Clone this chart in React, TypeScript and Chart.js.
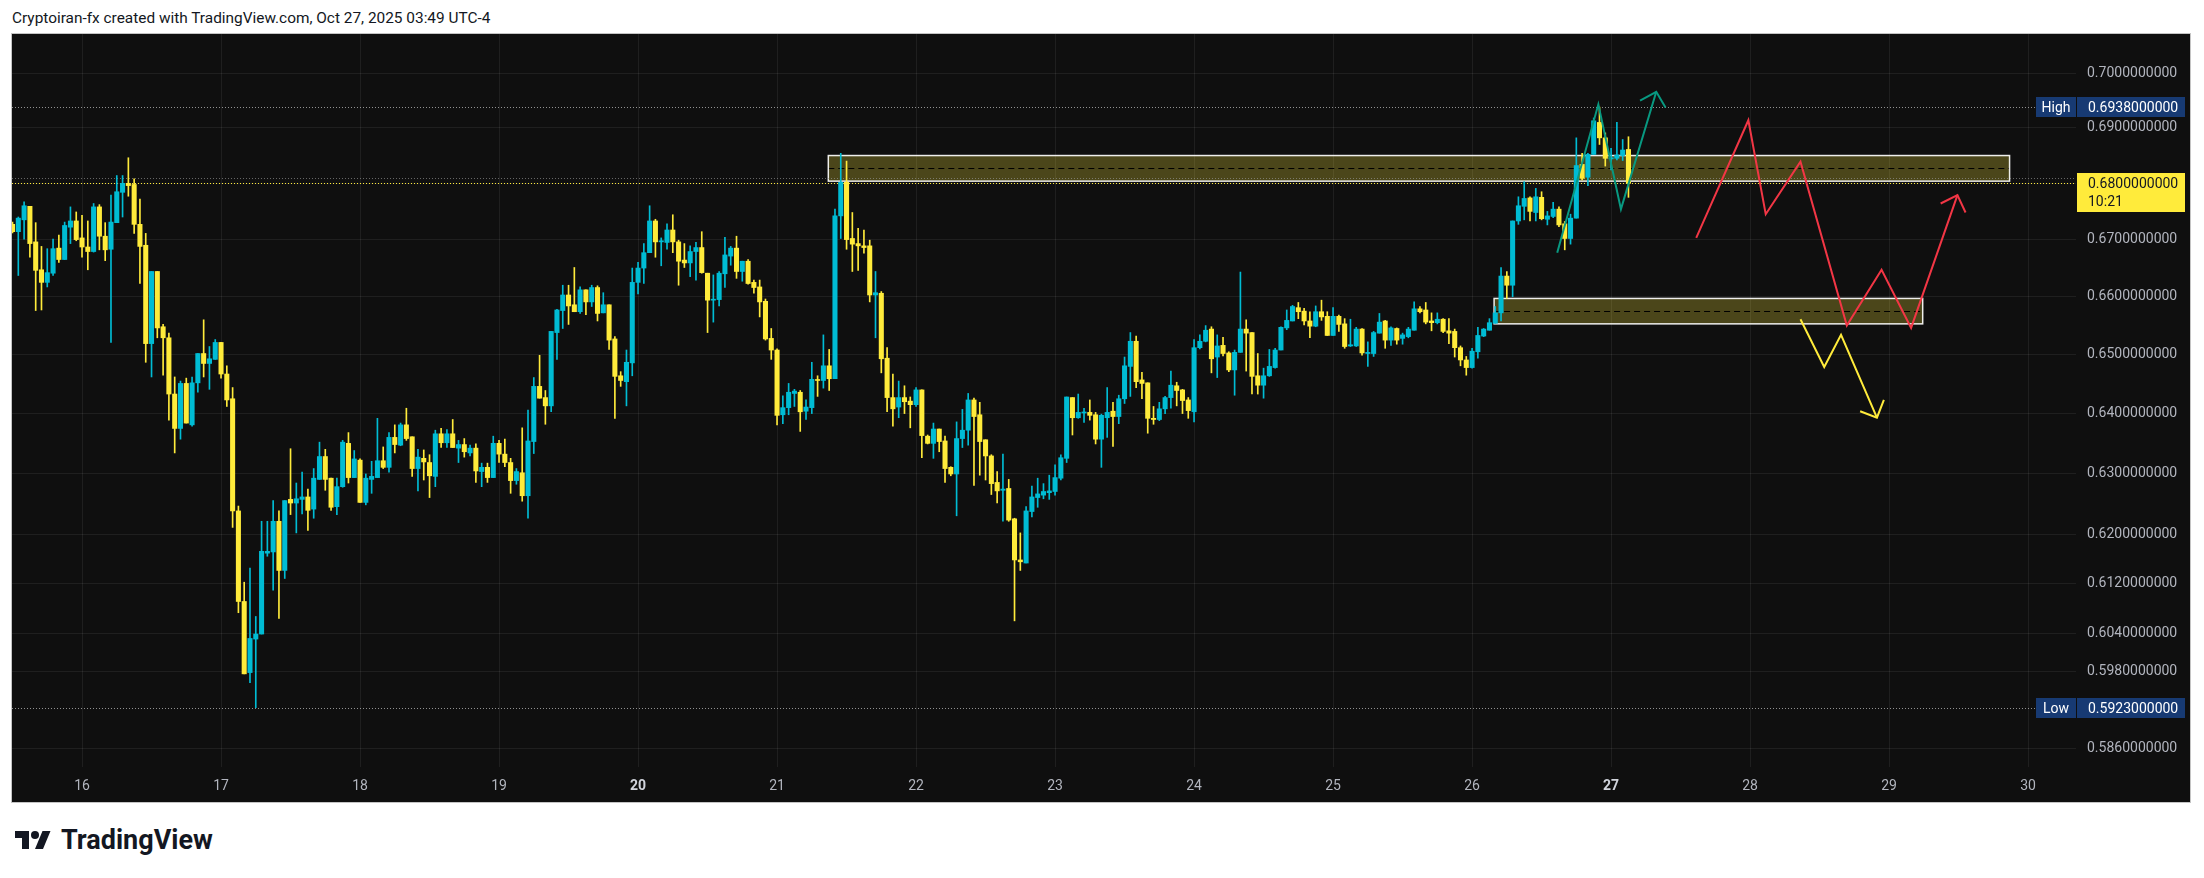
import React, { useEffect, useRef } from "react";
import { Chart, registerables } from "chart.js";

Chart.register(...registerables);

// Hourly candles; hour index is counted from Oct 16 00:00 (UTC-4)
const FIRST_HOUR = -12;

const open = [
  0.6727, 0.6714, 0.6735, 0.6759, 0.6696, 0.6647, 0.6625, 0.6641, 0.6685, 0.6665, 0.6722, 0.6733,
  0.6703, 0.6687, 0.6679, 0.6758, 0.6706, 0.6683, 0.6730, 0.6784, 0.6800, 0.6798,
  0.6727, 0.6690, 0.6519, 0.6644, 0.6548, 0.6529, 0.6433, 0.6375, 0.6451, 0.6381,
  0.6452, 0.6502, 0.6485, 0.6492, 0.6521, 0.6467, 0.6425, 0.6238, 0.6091, 0.5978,
  0.6031, 0.6039, 0.6169, 0.6171, 0.6221, 0.6141, 0.6257, 0.6251, 0.6257, 0.6261,
  0.6241, 0.6290, 0.6328, 0.6292, 0.6245, 0.6278, 0.6350, 0.6293, 0.6322, 0.6252,
  0.6290, 0.6293, 0.6321, 0.6310, 0.6360, 0.6347, 0.6381, 0.6361, 0.6308, 0.6325,
  0.6318, 0.6295, 0.6366, 0.6351, 0.6366, 0.6342, 0.6348, 0.6334, 0.6342, 0.6303,
  0.6310, 0.6293, 0.6350, 0.6332, 0.6318, 0.6288, 0.6301, 0.6263, 0.6353, 0.6446,
  0.6427, 0.6413, 0.6538, 0.6576, 0.6603, 0.6586, 0.6574, 0.6612, 0.6591, 0.6616,
  0.6572, 0.6586, 0.6527, 0.6464, 0.6454, 0.6486, 0.6625, 0.6650, 0.6677, 0.6733,
  0.6696, 0.6695, 0.6717, 0.6696, 0.6664, 0.6659, 0.6679, 0.6686, 0.6641, 0.6594,
  0.6595, 0.6640, 0.6671, 0.6685, 0.6644, 0.6662, 0.6625, 0.6617, 0.6592, 0.6528,
  0.6508, 0.6398, 0.6410, 0.6434, 0.6436, 0.6404, 0.6410, 0.6457, 0.6456, 0.6481,
  0.6459, 0.6742, 0.6802, 0.6702, 0.6693, 0.6689, 0.6689, 0.6603, 0.6606, 0.6494,
  0.6427, 0.6411, 0.6427, 0.6421, 0.6415, 0.6440, 0.6362, 0.6350, 0.6374, 0.6354,
  0.6310, 0.6299, 0.6358, 0.6372, 0.6423, 0.6398, 0.6356, 0.6329, 0.6285, 0.6272,
  0.6275, 0.6225, 0.6158, 0.6153, 0.6237, 0.6260, 0.6264, 0.6268, 0.6270, 0.6292,
  0.6325, 0.6427, 0.6393, 0.6401, 0.6402, 0.6398, 0.6357, 0.6393, 0.6404, 0.6395,
  0.6425, 0.6480, 0.6523, 0.6457, 0.6452, 0.6392, 0.6390, 0.6408, 0.6427, 0.6447,
  0.6440, 0.6423, 0.6403, 0.6512, 0.6523, 0.6544, 0.6496, 0.6516, 0.6503, 0.6474,
  0.6504, 0.6544, 0.6538, 0.6464, 0.6448, 0.6464, 0.6478, 0.6508, 0.6546, 0.6558,
  0.6581, 0.6575, 0.6558, 0.6549, 0.6574, 0.6566, 0.6533, 0.6566, 0.6553, 0.6515,
  0.6515, 0.6544, 0.6502, 0.6502, 0.6537, 0.6558, 0.6525, 0.6545, 0.6528, 0.6531,
  0.6542, 0.6579, 0.6577, 0.6558, 0.6555, 0.6561, 0.6541, 0.6540, 0.6512, 0.6491,
  0.6478, 0.6505, 0.6532, 0.6542, 0.6554, 0.6572, 0.6636, 0.6620, 0.6733, 0.6759,
  0.6774, 0.6748, 0.6775, 0.6736, 0.6741, 0.6754, 0.6728, 0.6702, 0.6738, 0.6834,
  0.6811, 0.6852, 0.6910, 0.6882, 0.6844, 0.6845, 0.6850, 0.6861,
];

const high = [
  0.6731, 0.6740, 0.6767, 0.6759, 0.6730, 0.6688, 0.6684, 0.6701, 0.6708, 0.6731, 0.6758, 0.6749,
  0.6743, 0.6733, 0.6764, 0.6762, 0.6730, 0.6779, 0.6814, 0.6814, 0.6846, 0.6808,
  0.6772, 0.6711, 0.6644, 0.6644, 0.6552, 0.6537, 0.6462, 0.6455, 0.6460, 0.6462,
  0.6502, 0.6560, 0.6514, 0.6526, 0.6521, 0.6481, 0.6444, 0.6246, 0.6122, 0.6145,
  0.6067, 0.6221, 0.6221, 0.6255, 0.6238, 0.6255, 0.6341, 0.6284, 0.6302, 0.6274,
  0.6308, 0.6352, 0.6340, 0.6292, 0.6292, 0.6355, 0.6368, 0.6338, 0.6324, 0.6299,
  0.6320, 0.6392, 0.6344, 0.6368, 0.6381, 0.6384, 0.6409, 0.6361, 0.6340, 0.6339,
  0.6331, 0.6372, 0.6375, 0.6373, 0.6390, 0.6355, 0.6358, 0.6347, 0.6349, 0.6317,
  0.6317, 0.6362, 0.6355, 0.6357, 0.6325, 0.6308, 0.6376, 0.6406, 0.6461, 0.6499,
  0.6439, 0.6540, 0.6578, 0.6620, 0.6620, 0.6651, 0.6617, 0.6612, 0.6620, 0.6619,
  0.6607, 0.6586, 0.6531, 0.6471, 0.6508, 0.6650, 0.6660, 0.6693, 0.6760, 0.6736,
  0.6703, 0.6728, 0.6744, 0.6699, 0.6693, 0.6689, 0.6695, 0.6714, 0.6641, 0.6638,
  0.6644, 0.6704, 0.6688, 0.6706, 0.6662, 0.6665, 0.6629, 0.6629, 0.6596, 0.6545,
  0.6510, 0.6430, 0.6451, 0.6441, 0.6439, 0.6423, 0.6487, 0.6464, 0.6534, 0.6509,
  0.6754, 0.6854, 0.6840, 0.6748, 0.6720, 0.6717, 0.6699, 0.6644, 0.6609, 0.6512,
  0.6467, 0.6455, 0.6447, 0.6428, 0.6444, 0.6440, 0.6364, 0.6384, 0.6374, 0.6362,
  0.6311, 0.6386, 0.6407, 0.6434, 0.6426, 0.6419, 0.6356, 0.6331, 0.6303, 0.6332,
  0.6290, 0.6226, 0.6202, 0.6245, 0.6279, 0.6292, 0.6283, 0.6297, 0.6314, 0.6331,
  0.6428, 0.6427, 0.6433, 0.6409, 0.6423, 0.6402, 0.6399, 0.6444, 0.6419, 0.6431,
  0.6496, 0.6538, 0.6532, 0.6470, 0.6452, 0.6412, 0.6419, 0.6429, 0.6472, 0.6453,
  0.6441, 0.6427, 0.6526, 0.6534, 0.6550, 0.6548, 0.6534, 0.6530, 0.6505, 0.6508,
  0.6643, 0.6560, 0.6538, 0.6502, 0.6477, 0.6509, 0.6511, 0.6548, 0.6577, 0.6585,
  0.6590, 0.6580, 0.6574, 0.6584, 0.6594, 0.6574, 0.6581, 0.6568, 0.6562, 0.6561,
  0.6547, 0.6545, 0.6522, 0.6540, 0.6571, 0.6559, 0.6548, 0.6546, 0.6537, 0.6547,
  0.6591, 0.6583, 0.6590, 0.6572, 0.6572, 0.6562, 0.6562, 0.6544, 0.6515, 0.6497,
  0.6511, 0.6547, 0.6545, 0.6562, 0.6583, 0.6651, 0.6644, 0.6733, 0.6776, 0.6803,
  0.6776, 0.6791, 0.6785, 0.6750, 0.6766, 0.6758, 0.6732, 0.6745, 0.6882, 0.6854,
  0.6854, 0.6918, 0.6938, 0.6891, 0.6863, 0.6910, 0.6879, 0.6884,
];

const low = [
  0.6712, 0.6637, 0.6701, 0.6669, 0.6576, 0.6577, 0.6617, 0.6637, 0.6660, 0.6665, 0.6693, 0.6698,
  0.6669, 0.6647, 0.6678, 0.6682, 0.6663, 0.6521, 0.6730, 0.6740, 0.6777, 0.6711,
  0.6623, 0.6487, 0.6462, 0.6529, 0.6465, 0.6389, 0.6334, 0.6357, 0.6384, 0.6379,
  0.6436, 0.6462, 0.6441, 0.6492, 0.6460, 0.6412, 0.6211, 0.6073, 0.5976, 0.5962,
  0.5923, 0.6039, 0.6164, 0.6109, 0.6064, 0.6128, 0.6232, 0.6202, 0.6233, 0.6206,
  0.6226, 0.6290, 0.6272, 0.6239, 0.6232, 0.6277, 0.6284, 0.6293, 0.6252, 0.6248,
  0.6267, 0.6293, 0.6308, 0.6302, 0.6334, 0.6346, 0.6355, 0.6295, 0.6271, 0.6289,
  0.6260, 0.6278, 0.6343, 0.6343, 0.6343, 0.6318, 0.6327, 0.6329, 0.6285, 0.6278,
  0.6285, 0.6293, 0.6318, 0.6311, 0.6267, 0.6282, 0.6254, 0.6226, 0.6333, 0.6426,
  0.6382, 0.6403, 0.6492, 0.6545, 0.6552, 0.6574, 0.6571, 0.6569, 0.6583, 0.6558,
  0.6572, 0.6509, 0.6392, 0.6446, 0.6413, 0.6464, 0.6605, 0.6623, 0.6677, 0.6669,
  0.6654, 0.6683, 0.6677, 0.6620, 0.6651, 0.6635, 0.6629, 0.6641, 0.6538, 0.6556,
  0.6584, 0.6616, 0.6655, 0.6632, 0.6627, 0.6622, 0.6606, 0.6565, 0.6525, 0.6492,
  0.6381, 0.6383, 0.6398, 0.6412, 0.6370, 0.6390, 0.6400, 0.6429, 0.6443, 0.6439,
  0.6459, 0.6702, 0.6683, 0.6644, 0.6646, 0.6676, 0.6591, 0.6529, 0.6469, 0.6403,
  0.6379, 0.6393, 0.6400, 0.6376, 0.6412, 0.6326, 0.6349, 0.6325, 0.6336, 0.6285,
  0.6296, 0.6230, 0.6343, 0.6347, 0.6280, 0.6297, 0.6289, 0.6265, 0.6251, 0.6221,
  0.6221, 0.6060, 0.6141, 0.6153, 0.6228, 0.6244, 0.6258, 0.6257, 0.6264, 0.6289,
  0.6318, 0.6364, 0.6392, 0.6385, 0.6389, 0.6349, 0.6310, 0.6360, 0.6345, 0.6383,
  0.6417, 0.6429, 0.6444, 0.6425, 0.6367, 0.6382, 0.6388, 0.6400, 0.6409, 0.6413,
  0.6400, 0.6392, 0.6386, 0.6510, 0.6522, 0.6469, 0.6461, 0.6498, 0.6471, 0.6431,
  0.6504, 0.6472, 0.6433, 0.6433, 0.6426, 0.6463, 0.6477, 0.6508, 0.6543, 0.6558,
  0.6562, 0.6551, 0.6529, 0.6548, 0.6559, 0.6533, 0.6533, 0.6540, 0.6511, 0.6514,
  0.6514, 0.6499, 0.6480, 0.6497, 0.6537, 0.6511, 0.6516, 0.6518, 0.6518, 0.6529,
  0.6542, 0.6572, 0.6553, 0.6541, 0.6553, 0.6538, 0.6519, 0.6496, 0.6481, 0.6465,
  0.6477, 0.6494, 0.6531, 0.6542, 0.6554, 0.6558, 0.6597, 0.6600, 0.6727, 0.6735,
  0.6733, 0.6733, 0.6735, 0.6726, 0.6739, 0.6723, 0.6682, 0.6692, 0.6738, 0.6806,
  0.6796, 0.6852, 0.6870, 0.6831, 0.6824, 0.6842, 0.6841, 0.6775,
];

const close = [
  0.6714, 0.6738, 0.6760, 0.6693, 0.6646, 0.6625, 0.6642, 0.6684, 0.6665, 0.6725, 0.6733, 0.6700,
  0.6687, 0.6679, 0.6758, 0.6706, 0.6682, 0.6731, 0.6785, 0.6800, 0.6796, 0.6727,
  0.6688, 0.6519, 0.6644, 0.6546, 0.6529, 0.6433, 0.6375, 0.6451, 0.6384, 0.6452,
  0.6502, 0.6485, 0.6493, 0.6521, 0.6467, 0.6423, 0.6238, 0.6091, 0.5976, 0.6032,
  0.6039, 0.6172, 0.6172, 0.6221, 0.6141, 0.6255, 0.6251, 0.6258, 0.6261, 0.6239,
  0.6292, 0.6328, 0.6290, 0.6244, 0.6278, 0.6352, 0.6293, 0.6324, 0.6252, 0.6292,
  0.6295, 0.6321, 0.6310, 0.6360, 0.6348, 0.6381, 0.6358, 0.6308, 0.6327, 0.6319,
  0.6296, 0.6366, 0.6351, 0.6366, 0.6343, 0.6348, 0.6336, 0.6342, 0.6304, 0.6310,
  0.6293, 0.6350, 0.6332, 0.6318, 0.6288, 0.6303, 0.6263, 0.6354, 0.6446, 0.6426,
  0.6413, 0.6540, 0.6577, 0.6603, 0.6584, 0.6574, 0.6612, 0.6591, 0.6616, 0.6571,
  0.6586, 0.6525, 0.6463, 0.6456, 0.6487, 0.6625, 0.6650, 0.6677, 0.6733, 0.6696,
  0.6698, 0.6717, 0.6696, 0.6662, 0.6659, 0.6679, 0.6686, 0.6642, 0.6594, 0.6595,
  0.6641, 0.6673, 0.6685, 0.6644, 0.6662, 0.6623, 0.6616, 0.6591, 0.6527, 0.6508,
  0.6397, 0.6410, 0.6436, 0.6438, 0.6403, 0.6411, 0.6458, 0.6456, 0.6481, 0.6459,
  0.6742, 0.6802, 0.6700, 0.6692, 0.6689, 0.6686, 0.6603, 0.6607, 0.6493, 0.6427,
  0.6408, 0.6427, 0.6420, 0.6415, 0.6440, 0.6363, 0.6350, 0.6374, 0.6353, 0.6308,
  0.6299, 0.6358, 0.6372, 0.6423, 0.6395, 0.6353, 0.6329, 0.6283, 0.6271, 0.6274,
  0.6223, 0.6158, 0.6155, 0.6238, 0.6261, 0.6266, 0.6270, 0.6271, 0.6293, 0.6326,
  0.6428, 0.6393, 0.6402, 0.6402, 0.6397, 0.6357, 0.6397, 0.6402, 0.6395, 0.6425,
  0.6481, 0.6523, 0.6454, 0.6451, 0.6392, 0.6390, 0.6408, 0.6427, 0.6448, 0.6439,
  0.6422, 0.6405, 0.6512, 0.6523, 0.6542, 0.6493, 0.6515, 0.6502, 0.6474, 0.6504,
  0.6544, 0.6537, 0.6463, 0.6448, 0.6464, 0.6480, 0.6508, 0.6547, 0.6559, 0.6583,
  0.6574, 0.6558, 0.6549, 0.6574, 0.6565, 0.6533, 0.6566, 0.6552, 0.6514, 0.6517,
  0.6544, 0.6503, 0.6504, 0.6538, 0.6556, 0.6525, 0.6546, 0.6525, 0.6534, 0.6544,
  0.6579, 0.6574, 0.6556, 0.6555, 0.6561, 0.6540, 0.6537, 0.6512, 0.6491, 0.6478,
  0.6506, 0.6533, 0.6544, 0.6555, 0.6572, 0.6636, 0.6620, 0.6733, 0.6760, 0.6773,
  0.6750, 0.6776, 0.6737, 0.6742, 0.6754, 0.6726, 0.6702, 0.6738, 0.6832, 0.6809,
  0.6852, 0.6913, 0.6882, 0.6845, 0.6846, 0.6851, 0.6860, 0.6800,
];

// Axis ticks
const dayTicks = [0, 24, 48, 72, 96, 120, 144, 168, 192, 216, 240, 264, 288, 312, 336];
const dayLabels = ["16", "17", "18", "19", "20", "21", "22", "23", "24", "25", "26", "27", "28", "29", "30"];
const boldDays = ["20", "27"];
const priceTicks = [0.7, 0.69, 0.68, 0.67, 0.66, 0.65, 0.64, 0.63, 0.62, 0.612, 0.604, 0.598, 0.586];
const X_MIN = -12.09;
const X_MAX = 344.27;
const Y_MIN = 0.58312;
const Y_MAX = 0.70728;

// Levels
const HIGH_PRICE = 0.6938;
const LOW_PRICE = 0.5923;
const LAST_PRICE = 0.68;
const PREV_CLOSE = 0.681;
const BAR_COUNTDOWN = "10:21";

// Zones (rectangles)
const zoneFrom = [128.85, 243.8];
const zoneTo = [332.8, 317.8];
const zoneTop = [0.685, 0.6597];
const zoneBottom = [0.6804, 0.6553];
const zoneMid = [0.6827, 0.6575];

// Drawn paths
const greenPathX = [254.7, 261.8, 265.7, 271.8];
const greenPathY = [0.6677, 0.6943, 0.6754, 0.6966];
const greenHeadX = [269.0, 271.8, 273.4];
const greenHeadY = [0.695, 0.6966, 0.6937];
const redPathX = [278.7, 287.7, 290.7, 296.7, 304.7, 310.7, 315.8, 323.8];
const redPathY = [0.6703, 0.6914, 0.6745, 0.6839, 0.655, 0.6647, 0.6546, 0.6779];
const redHeadX = [320.9, 323.8, 325.2];
const redHeadY = [0.6764, 0.6779, 0.6748];
const yellowPathX = [296.7, 300.8, 303.7, 309.9];
const yellowPathY = [0.6561, 0.6479, 0.6534, 0.6393];
const yellowHeadX = [307.0, 309.9, 311.1];
const yellowHeadY = [0.6404, 0.6393, 0.6423];

const UP = "#00bcd4";
const DOWN = "#ffeb3b";
const GREEN = "#089981";
const RED = "#f23645";
const FONT = "Roboto, 'Liberation Sans', sans-serif";
const TAG_BG = "#173a73";

const pts = (xs: number[], ys: number[]) => xs.map((x, i) => ({ x, y: ys[i] }));

export default function App() {
  const ref = useRef<HTMLCanvasElement>(null);

  useEffect(() => {
    const canvas = ref.current;
    if (!canvas) return;
    const hours = open.map((_, i) => FIRST_HOUR + i);
    const colors = hours.map((_, i) => (close[i] >= open[i] ? UP : DOWN));
    const fmt = (v: number) => Number(v).toFixed(10);

    const backPlugin = {
      id: "back",
      beforeDatasetsDraw(chart: any) {
        const { ctx, chartArea: a, scales } = chart;
        const xs = scales.x;
        const ys = scales.y;
        ctx.save();
        ctx.beginPath();
        ctx.rect(a.left, a.top, a.right - a.left, a.bottom - a.top);
        ctx.clip();
        for (let i = 0; i < zoneFrom.length; i++) {
          const x1 = xs.getPixelForValue(zoneFrom[i]);
          const x2 = xs.getPixelForValue(zoneTo[i]);
          const y1 = ys.getPixelForValue(zoneTop[i]);
          const y2 = ys.getPixelForValue(zoneBottom[i]);
          const ym = ys.getPixelForValue(zoneMid[i]);
          ctx.fillStyle = "rgba(255,235,59,0.25)";
          ctx.fillRect(x1, y1, x2 - x1, y2 - y1);
          ctx.setLineDash([6, 4]);
          ctx.strokeStyle = "#000000";
          ctx.lineWidth = 1.2;
          ctx.beginPath();
          ctx.moveTo(x1, Math.round(ym) + 0.5);
          ctx.lineTo(x2, Math.round(ym) + 0.5);
          ctx.stroke();
          ctx.setLineDash([]);
          ctx.strokeStyle = "rgba(255,255,255,0.92)";
          ctx.lineWidth = 1.5;
          ctx.strokeRect(x1, y1, x2 - x1, y2 - y1);
        }
        const dotted = (price: number, color: string) => {
          const y = Math.round(ys.getPixelForValue(price)) + 0.5;
          ctx.setLineDash([1, 2]);
          ctx.strokeStyle = color;
          ctx.lineWidth = 1;
          ctx.beginPath();
          ctx.moveTo(a.left, y);
          ctx.lineTo(a.right, y);
          ctx.stroke();
        };
        dotted(HIGH_PRICE, "rgba(190,190,190,0.75)");
        dotted(LOW_PRICE, "rgba(190,190,190,0.75)");
        dotted(PREV_CLOSE, "rgba(160,160,160,0.6)");
        dotted(LAST_PRICE, "#ffeb3b");
        ctx.setLineDash([]);
        ctx.restore();
      },
    };

    const tagPlugin = {
      id: "tags",
      afterDraw(chart: any) {
        const { ctx, chartArea: a, scales } = chart;
        const ys = scales.y;
        const r = a.right;
        ctx.save();
        ctx.textBaseline = "middle";
        const tag = (price: number, label: string) => {
          const y = Math.round(ys.getPixelForValue(price));
          ctx.fillStyle = TAG_BG;
          ctx.fillRect(r - 40, y - 10, 40, 20);
          ctx.fillRect(r + 1, y - 10, 108, 20);
          ctx.fillStyle = "#ffffff";
          ctx.font = `14px ${FONT}`;
          ctx.textAlign = "center";
          ctx.fillText(label, r - 20, y + 1);
          ctx.textAlign = "left";
          ctx.fillText(fmt(price), r + 12, y + 1);
        };
        tag(HIGH_PRICE, "High");
        tag(LOW_PRICE, "Low");
        const yl = Math.round(ys.getPixelForValue(LAST_PRICE));
        ctx.fillStyle = "#ffeb3b";
        ctx.fillRect(r + 1, yl - 10, 108, 39);
        ctx.fillStyle = "#131722";
        ctx.font = `14px ${FONT}`;
        ctx.textAlign = "left";
        ctx.fillText(fmt(LAST_PRICE), r + 12, yl + 1);
        ctx.fillText(BAR_COUNTDOWN, r + 12, yl + 19);
        ctx.restore();
      },
    };

    const lineDs = (xs: number[], ys: number[], color: string) => ({
      type: "line" as const,
      data: pts(xs, ys),
      borderColor: color,
      borderWidth: 2,
      pointRadius: 0,
      tension: 0,
      fill: false,
      order: 0,
    });

    const chart = new Chart(canvas, {
      type: "bar",
      data: {
        datasets: [
          lineDs(greenPathX, greenPathY, GREEN),
          lineDs(greenHeadX, greenHeadY, GREEN),
          lineDs(redPathX, redPathY, RED),
          lineDs(redHeadX, redHeadY, RED),
          lineDs(yellowPathX, yellowPathY, DOWN),
          lineDs(yellowHeadX, yellowHeadY, DOWN),
          {
            type: "bar",
            data: hours.map((x, i) => ({ x, y: [open[i], close[i]] })),
            backgroundColor: colors,
            borderWidth: 0,
            barThickness: 4.4,
            minBarLength: 1,
            grouped: false,
            order: 2,
          } as any,
          {
            type: "bar",
            data: hours.map((x, i) => ({ x, y: [low[i], high[i]] })),
            backgroundColor: colors,
            borderWidth: 0,
            barThickness: 1,
            minBarLength: 1,
            grouped: false,
            order: 3,
          } as any,
        ],
      },
      options: {
        animation: false,
        responsive: false,
        maintainAspectRatio: false,
        devicePixelRatio: 1,
        events: [],
        layout: { padding: 0, autoPadding: false },
        plugins: { legend: { display: false }, tooltip: { enabled: false } },
        scales: {
          x: {
            type: "linear",
            min: X_MIN,
            max: X_MAX,
            bounds: "data",
            offset: false,
            grid: { color: "rgba(255,255,255,0.07)", drawTicks: false, offset: false },
            border: { display: false },
            afterBuildTicks: (s: any) => {
              s.ticks = dayTicks.map((v) => ({ value: v }));
            },
            afterFit: (s: any) => {
              s.height = 35;
              s.paddingLeft = 0;
              s.paddingRight = 0;
            },
            ticks: {
              autoSkip: false,
              maxRotation: 0,
              padding: 11,
              callback: (v: any) => {
                const i = dayTicks.indexOf(Number(v));
                return i >= 0 ? dayLabels[i] : "";
              },
              color: (c: any) => {
                const i = dayTicks.indexOf(c.tick ? c.tick.value : -1);
                return i >= 0 && boldDays.includes(dayLabels[i]) ? "#d1d4dc" : "#b2b5be";
              },
              font: (c: any) => {
                const i = dayTicks.indexOf(c.tick ? c.tick.value : -1);
                const b = i >= 0 && boldDays.includes(dayLabels[i]);
                return { family: FONT, size: 14, weight: b ? "bold" : "normal" };
              },
            },
          },
          y: {
            type: "logarithmic",
            position: "right",
            min: Y_MIN,
            max: Y_MAX,
            bounds: "data",
            beginAtZero: false,
            grid: { color: "rgba(255,255,255,0.07)", drawTicks: false },
            border: { display: false },
            afterBuildTicks: (s: any) => {
              s.ticks = priceTicks.map((v) => ({ value: v }));
            },
            afterFit: (s: any) => {
              s.width = 114;
              s.paddingTop = 0;
              s.paddingBottom = 0;
            },
            ticks: {
              padding: 11,
              color: "#b2b5be",
              font: { family: FONT, size: 14 },
              callback: (v: any) => fmt(Number(v)),
            },
          },
        },
      } as any,
      plugins: [backPlugin, tagPlugin],
    });

    return () => chart.destroy();
  }, []);

  return (
    <div
      style={{
        position: "fixed",
        left: 0,
        top: 0,
        width: 2204,
        height: 878,
        background: "#ffffff",
        overflow: "hidden",
        fontFamily: FONT,
      }}
    >
      <div
        style={{
          position: "absolute",
          left: 12,
          top: 9,
          fontSize: 15.4,
          lineHeight: "18px",
          color: "#131722",
          whiteSpace: "nowrap",
        }}
      >
        Cryptoiran-fx created with TradingView.com, Oct 27, 2025 03:49 UTC-4
      </div>
      <div
        style={{
          position: "absolute",
          left: 11,
          top: 33,
          width: 2178,
          height: 768,
          border: "1px solid #c4c4c4",
          background: "#0f0f0f",
        }}
      >
        <canvas ref={ref} width={2178} height={768} style={{ display: "block", width: 2178, height: 768 }} />
      </div>
      <div style={{ position: "absolute", left: 15, top: 826, display: "flex", alignItems: "center" }}>
        <svg width={36} height={18} viewBox="0 4 36 18" style={{ display: "block" }}>
          <path d="M14 22H7V11H0V4h14v18zM28 22h-8l7.5-18h8L28 22z" fill="#131722" />
          <circle cx="20" cy="8" r="4" fill="#131722" />
        </svg>
        <span
          style={{
            marginLeft: 10,
            fontSize: 27,
            fontWeight: 700,
            color: "#131722",
            lineHeight: "28px",
          }}
        >
          TradingView
        </span>
      </div>
    </div>
  );
}
